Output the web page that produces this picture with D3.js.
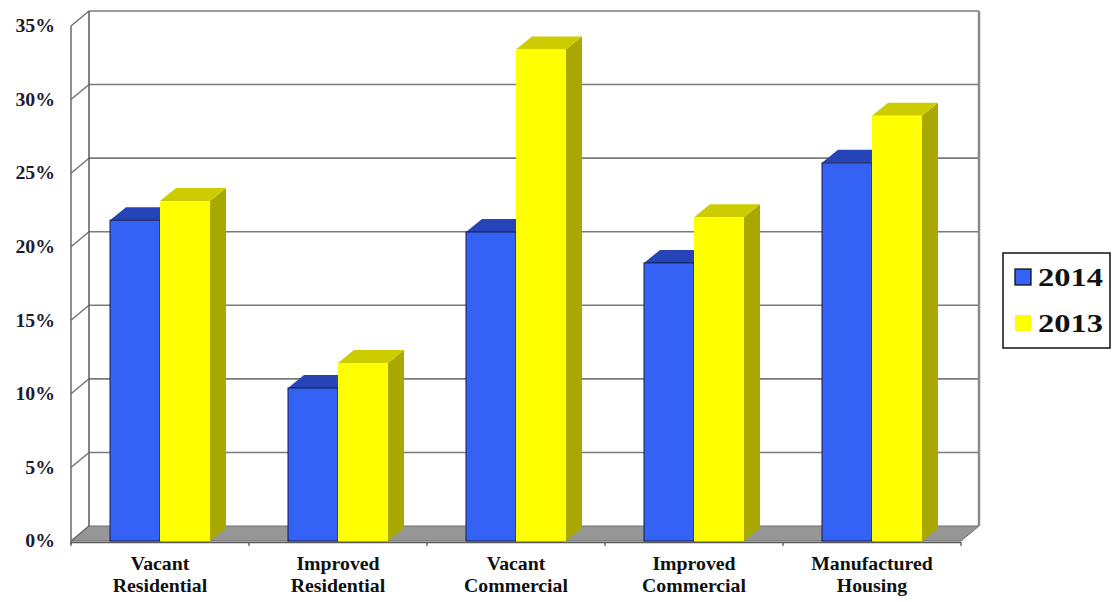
<!DOCTYPE html>
<html>
<head>
<meta charset="utf-8">
<script src="https://cdn.jsdelivr.net/npm/d3@7"></script>
<style>
  body { margin: 0; background: #fff; }
  text { font-family: "Liberation Serif", "Times New Roman", serif; font-weight: bold; }
</style>
</head>
<body>
<div id="chart-area"></div>
<script>
// data
let categories = [["Vacant", "Residential"], ["Improved", "Residential"], ["Vacant", "Commercial"], ["Improved", "Commercial"], ["Manufactured", "Housing"]];
let series = ["2014", "2013"];
let values2014 = [21.8, 10.4, 21.0, 18.9, 25.7];
let values2013 = [23.1, 12.1, 33.4, 22.0, 28.9];
let yTicks = [0, 5, 10, 15, 20, 25, 30, 35];

let width = 1113,
	height = 602;

// 3d offsets
let wallDx = 18, wallDy = -15;
let barDx = 16, barDy = -13;

let svg = d3.select("#chart-area")
			.append("svg")
			.attr("width", width)
			.attr("height", height);

let catKeys = categories.map(c => c.join(" "));

let xScale = d3.scaleBand()
			.domain(catKeys)
			.range([71, 961]);

let barWidth = 50;
let xInner = d3.scaleBand()
			.domain(series)
			.range([0, barWidth * 2]);

let yScale = d3.scaleLinear()
			.domain([0, 35])
			.range([541, 26]);

let x0 = xScale.range()[0], x1 = xScale.range()[1];
let yBase = yScale(0), yTop = yScale(35);

// floor
svg.append("polygon")
	.attr("points", [[x0, yBase], [x1, yBase], [x1 + wallDx, yBase + wallDy], [x0 + wallDx, yBase + wallDy]].join(" "))
	.attr("fill", "#969696")
	.attr("stroke", "#6e6e6e")
	.attr("stroke-width", 1);

// back wall gridlines
svg.selectAll(".grid")
	.data(yTicks)
	.enter()
	.append("line")
	.attr("class", "grid")
	.attr("x1", x0 + wallDx)
	.attr("x2", x1 + wallDx)
	.attr("y1", d => yScale(d) + wallDy)
	.attr("y2", d => yScale(d) + wallDy)
	.attr("stroke", "#7a7a7a")
	.attr("stroke-width", d => d == 0 ? 0 : 1.6);

// left wall gridlines
svg.selectAll(".lgrid")
	.data(yTicks)
	.enter()
	.append("line")
	.attr("class", "lgrid")
	.attr("x1", x0)
	.attr("x2", x0 + wallDx)
	.attr("y1", d => yScale(d))
	.attr("y2", d => yScale(d) + wallDy)
	.attr("stroke", "#6a6a6a")
	.attr("stroke-width", 1.3);

// walls edges
svg.append("line")
	.attr("x1", x0 + wallDx).attr("x2", x0 + wallDx)
	.attr("y1", yTop + wallDy).attr("y2", yBase + wallDy)
	.attr("stroke", "#5a5a5a").attr("stroke-width", 1.5);
svg.append("line")
	.attr("x1", x1 + wallDx).attr("x2", x1 + wallDx)
	.attr("y1", yTop + wallDy).attr("y2", yBase + wallDy)
	.attr("stroke", "#8a8a8a").attr("stroke-width", 2.5);
svg.append("line")
	.attr("x1", x0).attr("x2", x0)
	.attr("y1", yTop).attr("y2", yBase + 3)
	.attr("stroke", "#6a6a6a").attr("stroke-width", 1.5);
svg.append("line")
	.attr("x1", x0).attr("x2", x1)
	.attr("y1", yBase + 1.5).attr("y2", yBase + 1.5)
	.attr("stroke", "#5a5a5a").attr("stroke-width", 1.5);

// category ticks
svg.selectAll(".ctick")
	.data(catKeys.concat(["end"]))
	.enter()
	.append("line")
	.attr("class", "ctick")
	.attr("x1", (d, i) => x0 + i * xScale.bandwidth())
	.attr("x2", (d, i) => x0 + i * xScale.bandwidth())
	.attr("y1", yBase + 1)
	.attr("y2", yBase + 5)
	.attr("stroke", "#5a5a5a")
	.attr("stroke-width", 1.3);

// value labels
svg.selectAll(".ylab")
	.data(yTicks)
	.enter()
	.append("text")
	.attr("class", "ylab")
	.attr("transform", d => "translate(55," + yScale(d) + ") scale(1.1,1)")
	.attr("text-anchor", "end")
	.attr("dy", "0.35em")
	.attr("font-size", 18)
	.attr("fill", "#1b1b33")
	.text(d => d + "%");

// bars
let colors = {
	"2014": { front: "#3462f4", top: "#2444b8", side: "#1c3590", stroke: "#1a1a40" },
	"2013": { front: "#ffff00", top: "#cccc00", side: "#a8a800", stroke: "none" }
};

let barData = [];
series.forEach((s, si) => {
	let vals = si == 0 ? values2014 : values2013;
	vals.forEach((v, i) => barData.push({ cat: catKeys[i], series: s, value: v }));
});

let bars = svg.selectAll(".bar")
	.data(barData)
	.enter()
	.append("g")
	.attr("class", "bar");

let bx = d => xScale(d.cat) + xScale.bandwidth() / 2 - barWidth + xInner(d.series);

bars.append("polygon")
	.attr("points", d => {
		let l = bx(d), r = l + barWidth, t = yScale(d.value);
		return [[r, t], [r + barDx, t + barDy], [r + barDx, yBase + barDy], [r, yBase]].join(" ");
	})
	.attr("fill", d => colors[d.series].side);

bars.append("polygon")
	.attr("points", d => {
		let l = bx(d), r = l + barWidth, t = yScale(d.value);
		return [[l, t], [l + barDx, t + barDy], [r + barDx, t + barDy], [r, t]].join(" ");
	})
	.attr("fill", d => colors[d.series].top);

bars.append("rect")
	.attr("x", d => bx(d))
	.attr("y", d => yScale(d.value))
	.attr("width", barWidth)
	.attr("height", d => yBase - yScale(d.value))
	.attr("fill", d => colors[d.series].front)
	.attr("stroke", d => colors[d.series].stroke)
	.attr("stroke-width", 1);

// category labels
let catLab = svg.selectAll(".xlab")
	.data(categories)
	.enter()
	.append("g")
	.attr("class", "xlab")
	.attr("transform", (d, i) => "translate(" + (xScale(catKeys[i]) + xScale.bandwidth() / 2) + ",0)");

catLab.selectAll("text")
	.data(d => d)
	.enter()
	.append("text")
	.attr("transform", (d, i) => "translate(0," + (570 + i * 22) + ") scale(1.1,1)")
	.attr("text-anchor", "middle")
	.attr("font-size", 18)
	.attr("fill", "#111")
	.text(d => d);

// legend
let legend = svg.append("g")
	.attr("transform", "translate(1003,253)");

legend.append("rect")
	.attr("x", 0).attr("y", 0)
	.attr("width", 107).attr("height", 95)
	.attr("fill", "#fff")
	.attr("stroke", "#111")
	.attr("stroke-width", 1.5);

let legItems = legend.selectAll(".leg")
	.data(series)
	.enter()
	.append("g")
	.attr("class", "leg")
	.attr("transform", (d, i) => "translate(0," + (i * 46) + ")");

legItems.append("rect")
	.attr("x", 12).attr("y", 16)
	.attr("width", 16).attr("height", 16)
	.attr("fill", d => colors[d].front)
	.attr("stroke", d => d == "2014" ? "#111" : "none")
	.attr("stroke-width", 1.3);

legItems.append("text")
	.attr("transform", "translate(35,33) scale(1.25,1)")
	.attr("font-size", 26)
	.attr("fill", "#111")
	.text(d => d);
</script>
</body>
</html>
